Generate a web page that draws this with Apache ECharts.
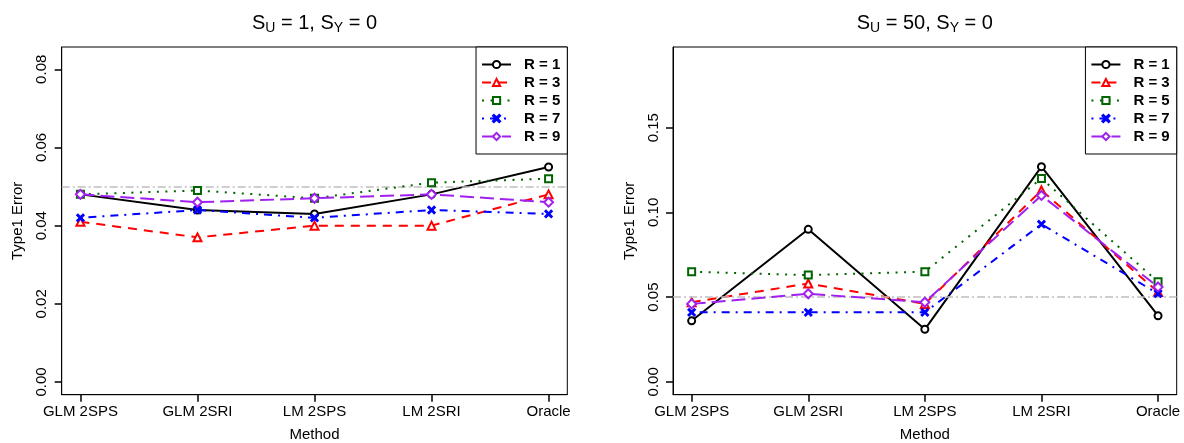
<!DOCTYPE html>
<html>
<head>
<meta charset="utf-8">
<script src="https://cdn.jsdelivr.net/npm/echarts@6/dist/echarts.min.js"></script>
<style>
html,body{margin:0;padding:0;background:#fff;}
#chart{width:1184px;height:443px;}
</style>
</head>
<body>
<div id="chart"></div>
<script>
// ---- data ----
const methods = ['GLM 2SPS', 'GLM 2SRI', 'LM 2SPS', 'LM 2SRI', 'Oracle'];
const seriesNames = ['R = 1', 'R = 3', 'R = 5', 'R = 7', 'R = 9'];

// panel 1: S_U = 1, S_Y = 0
const left_R1 = [0.048, 0.044, 0.043, 0.048, 0.055];
const left_R3 = [0.041, 0.037, 0.040, 0.040, 0.048];
const left_R5 = [0.048, 0.049, 0.047, 0.051, 0.052];
const left_R7 = [0.042, 0.044, 0.042, 0.044, 0.043];
const left_R9 = [0.048, 0.046, 0.047, 0.048, 0.046];

// panel 2: S_U = 50, S_Y = 0
const right_R1 = [0.036, 0.090, 0.031, 0.127, 0.039];
const right_R3 = [0.047, 0.058, 0.046, 0.113, 0.053];
const right_R5 = [0.065, 0.063, 0.065, 0.120, 0.059];
const right_R7 = [0.041, 0.041, 0.041, 0.093, 0.052];
const right_R9 = [0.046, 0.052, 0.047, 0.110, 0.056];

const xTickPos = [1, 2, 3, 4, 5];
const leftTicks = [0, 0.02, 0.04, 0.06, 0.08];
const rightTicks = [0, 0.05, 0.10, 0.15];
const refLevel = 0.05;

const leftTitle = '{a|S}{b|U}{a| = 1, S}{b|Y}{a| = 0}';
const rightTitle = '{a|S}{b|U}{a| = 50, S}{b|Y}{a| = 0}';
const xName = 'Method';
const yName = 'Type1 Error';

// ---- styles ----
const FONT = 'Liberation Sans, Arial, Helvetica, sans-serif';
const colors = ['#000000', '#FF0000', '#006400', '#0000FF', '#A020F0'];
const dashes = ['solid', [9, 7], [2, 6.5], [2, 6, 8, 6], [14, 6]];
const xPath = 'path://M0,1.3 L1.3,0 L5,3.7 L8.7,0 L10,1.3 L6.3,5 L10,8.7 L8.7,10 L5,6.3 L1.3,10 L0,8.7 L3.7,5 Z';
const symbols = ['emptyCircle', 'emptyTriangle', 'emptyRect', xPath, 'emptyDiamond'];
const symSizes = [7, 8, 7, 7, 9];

const leftData = [left_R1, left_R3, left_R5, left_R7, left_R9];
const rightData = [right_R1, right_R3, right_R5, right_R7, right_R9];

function buildSeries(dataSets, idx) {
  return dataSets.map((vals, i) => {
    const s = {
      type: 'line',
      name: seriesNames[i],
      xAxisIndex: idx,
      yAxisIndex: idx,
      data: vals.map((v, j) => [xTickPos[j], v]),
      symbol: symbols[i],
      symbolSize: symSizes[i],
      lineStyle: {color: colors[i], width: 2, type: dashes[i], cap: 'butt'},
      itemStyle: {color: colors[i], borderColor: colors[i], borderWidth: 1.6},
      emphasis: {disabled: true},
      z: 3 + i
    };
    if (i === 0) {
      s.markLine = {
        silent: true, symbol: 'none', label: {show: false},
        lineStyle: {color: '#BEBEBE', type: [8, 3, 2, 3], width: 1.5},
        emphasis: {disabled: true},
        data: [{yAxis: refLevel}]
      };
    }
    return s;
  });
}

const grids = [
  {left: 61.7, top: 47, width: 505.6, height: 347.7},
  {left: 673, top: 47, width: 503.7, height: 347.7}
];

function xAxisOpt(gi) {
  return {
    type: 'value', gridIndex: gi, min: 0.84, max: 5.16,
    name: xName, nameLocation: 'middle', nameGap: 33,
    nameTextStyle: {fontFamily: FONT, fontSize: 15, color: '#000'},
    axisLine: {show: true, onZero: false, lineStyle: {color: '#000', width: 1}},
    splitLine: {show: false},
    axisTick: {show: true, length: 7, lineStyle: {color: '#000', width: 1.5}, customValues: xTickPos},
    axisLabel: {
      fontFamily: FONT, fontSize: 15, color: '#000', margin: 10,
      customValues: xTickPos,
      formatter: v => methods[Math.round(v) - 1] || ''
    }
  };
}
function yAxisOpt(gi, mn, mx, ticks) {
  return {
    type: 'value', gridIndex: gi, min: mn, max: mx,
    name: yName, nameLocation: 'middle', nameGap: 36, nameRotate: 90,
    nameTextStyle: {fontFamily: FONT, fontSize: 15, color: '#000'},
    axisLine: {show: true, onZero: false, lineStyle: {color: '#000', width: 1}},
    splitLine: {show: false},
    axisTick: {show: true, length: 7, lineStyle: {color: '#000', width: 1.5}, customValues: ticks},
    axisLabel: {
      fontFamily: FONT, fontSize: 15, color: '#000', margin: 12, rotate: 90,
      customValues: ticks,
      formatter: v => v.toFixed(2)
    }
  };
}

function legendOpt(rightPx) {
  return {
    data: seriesNames, orient: 'vertical', right: rightPx, top: 47,
    itemWidth: 29, itemHeight: 9, itemGap: 3,
    padding: [10, 7, 10, 5],
    borderColor: '#000', borderWidth: 1, borderRadius: 0, backgroundColor: '#fff',
    selectedMode: false,
    textStyle: {fontFamily: FONT, fontSize: 15, fontWeight: 'bold', color: '#000', padding: [0, 0, 0, 8]}
  };
}

const richTitle = {
  a: {fontFamily: FONT, fontSize: 20, fontWeight: 'normal', lineHeight: 24, color: '#000'},
  b: {fontFamily: FONT, fontSize: 14, fontWeight: 'normal', lineHeight: 18, verticalAlign: 'bottom', color: '#000'}
};

const option = {
  animation: false,
  backgroundColor: '#fff',
  title: [
    {text: leftTitle, left: 314.5, top: 11, textAlign: 'center', padding: 0, textStyle: {fontWeight: 'normal', rich: richTitle}},
    {text: rightTitle, left: 924.8, top: 11, textAlign: 'center', padding: 0, textStyle: {fontWeight: 'normal', rich: richTitle}}
  ],
  grid: grids.map(g => Object.assign({show: true, borderColor: '#000', borderWidth: 1, outerBoundsMode: 'none', containLabel: false}, g)),
  xAxis: [xAxisOpt(0), xAxisOpt(1)],
  yAxis: [yAxisOpt(0, -0.00325, 0.0857, leftTicks), yAxisOpt(1, -0.0076, 0.1976, rightTicks)],
  legend: [legendOpt(616.7), legendOpt(7.3)],
  series: buildSeries(leftData, 0).concat(buildSeries(rightData, 1))
};

const chart = echarts.init(document.getElementById('chart'), null, {renderer: 'canvas'});
chart.setOption(option);
</script>
</body>
</html>
